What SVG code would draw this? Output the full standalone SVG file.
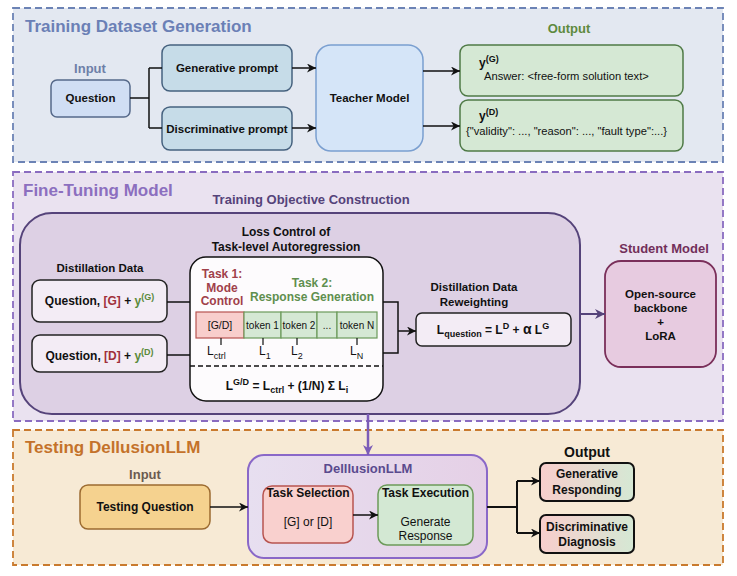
<svg xmlns="http://www.w3.org/2000/svg" width="737" height="576" viewBox="0 0 737 576">
<defs>
<style>
text{font-family:"Liberation Sans",Arial,sans-serif;fill:#111}
.b{font-weight:bold}
.c{text-anchor:middle}
.sec{font-size:17px;font-weight:bold}
.lbl{font-size:11.5px;font-weight:bold}
.ln{fill:none;stroke:#111;stroke-width:1.5}
.arr{fill:none;stroke:#111;stroke-width:1.5;marker-end:url(#ah)}
</style>
<marker id="ah" viewBox="0 0 10 10" refX="10" refY="5" markerWidth="10" markerHeight="9" markerUnits="userSpaceOnUse" orient="auto"><path d="M0,0 L10,5 L0,10 L3,5 Z" fill="#111"/></marker>
<marker id="ahp" viewBox="0 0 10 10" refX="10" refY="5" markerWidth="11" markerHeight="10" markerUnits="userSpaceOnUse" orient="auto"><path d="M0,0 L10,5 L0,10 L3,5 Z" fill="#55437A"/></marker>
<marker id="ahv" viewBox="0 0 10 10" refX="10" refY="5" markerWidth="11" markerHeight="10" markerUnits="userSpaceOnUse" orient="auto"><path d="M0,0 L10,5 L0,10 L3,5 Z" fill="#7C5CB8"/></marker>
<linearGradient id="gDel" x1="0" y1="0" x2="1" y2="0"><stop offset="0" stop-color="#E7DFF0"/><stop offset="1" stop-color="#E5D0E6"/></linearGradient>
<linearGradient id="gOut" x1="0" y1="0" x2="1" y2="0"><stop offset="0" stop-color="#F8CECC"/><stop offset="1" stop-color="#D5E8D4"/></linearGradient>
</defs>

<!-- Section backgrounds -->
<g id="sec1">
<rect x="13" y="8" width="710" height="154" fill="#E3E8F1" stroke="#6C83B5" stroke-width="1.8" stroke-dasharray="7 4"/>
<text x="25" y="32" class="sec" style="fill:#6B80B6">Training Dataset Generation</text>
<text x="90" y="73" class="c b" font-size="13" style="fill:#6E7FA8">Input</text>
<text x="569" y="33" class="c b" font-size="13" style="fill:#5E8A3E">Output</text>
</g>
<g id="sec2">
<rect x="13" y="172" width="710" height="249" fill="#EAE2F0" stroke="#8A6CC0" stroke-width="1.8" stroke-dasharray="7 4"/>
<text x="23" y="196" class="sec" style="fill:#8C6FBF">Fine-Tuning Model</text>
</g>
<g id="sec3">
<rect x="13" y="430" width="710" height="135" fill="#F7EAD5" stroke="#C97A2E" stroke-width="1.8" stroke-dasharray="7 4"/>
<text x="25" y="453" class="sec" style="fill:#C4722A">Testing DellusionLLM</text>
<text x="145" y="479" class="c b" font-size="13" style="fill:#6B5A50">Input</text>
<text x="587" y="457" class="c b" font-size="14">Output</text>
</g>

<!-- Section 1 nodes -->
<g id="question">
<rect x="51" y="80" width="79" height="37" rx="6" fill="#D0DEF4" stroke="#56698A" stroke-width="1.5"/>
<text x="90.5" y="102" class="c lbl">Question</text>
</g>
<g id="genprompt">
<rect x="162" y="45" width="130" height="46" rx="8" fill="#C6DCE8" stroke="#46627F" stroke-width="1.5"/>
<text x="227" y="72" class="c lbl">Generative prompt</text>
</g>
<g id="discprompt">
<rect x="162" y="107" width="130" height="43" rx="8" fill="#C6DCE8" stroke="#46627F" stroke-width="1.5"/>
<text x="227" y="133" class="c lbl">Discriminative prompt</text>
</g>
<g id="teacher">
<rect x="316" y="45" width="107" height="106" rx="15" fill="#D5E5F8" stroke="#7A9FD0" stroke-width="1.5"/>
<text x="369.5" y="102" class="c lbl">Teacher Model</text>
</g>
<g id="outG">
<rect x="460" y="45" width="223" height="51" rx="8" fill="#D5E8D4" stroke="#4F7A46" stroke-width="1.5"/>
<text x="479" y="67" class="b" font-size="12">y<tspan font-size="9" dy="-5">(G)</tspan></text>
<text x="484" y="80" font-size="11.2">Answer: &lt;free-form solution text&gt;</text>
</g>
<g id="outD">
<rect x="460" y="100" width="223" height="51" rx="8" fill="#D5E8D4" stroke="#4F7A46" stroke-width="1.5"/>
<text x="479" y="120" class="b" font-size="12">y<tspan font-size="9" dy="-5">(D)</tspan></text>
<text x="466" y="135" font-size="11.2">{"validity": ..., "reason": ..., "fault type":...}</text>
</g>

<!-- Section 2 nodes -->
<g id="objective">
<rect x="20" y="213" width="560" height="201" rx="32" fill="#DDD0E4" stroke="#55437A" stroke-width="2"/>
<text x="311" y="204" class="c b" font-size="13" style="fill:#55437A">Training Objective Construction</text>
<text x="286" y="236" class="c b" font-size="12">Loss Control of</text>
<text x="286" y="251" class="c b" font-size="12">Task-level Autoregression</text>
<text x="100" y="272" class="c b" font-size="11.5">Distillation Data</text>
<text x="474" y="291" class="c b" font-size="11.5">Distillation Data</text>
<text x="474" y="306" class="c b" font-size="11.5">Reweighting</text>
</g>
<g id="dataG">
<rect x="32" y="280" width="135" height="42" rx="8" fill="#F3ECF5" stroke="#222" stroke-width="1.5"/>
<text x="99.5" y="305" class="c b" font-size="12">Question, <tspan style="fill:#A0303A">[G]</tspan> + <tspan style="fill:#5A8A3A">y<tspan font-size="9" dy="-5">(G)</tspan></tspan></text>
</g>
<g id="dataD">
<rect x="32" y="335" width="135" height="37" rx="8" fill="#F3ECF5" stroke="#222" stroke-width="1.5"/>
<text x="99.5" y="360" class="c b" font-size="12">Question, <tspan style="fill:#A0303A">[D]</tspan> + <tspan style="fill:#5A8A3A">y<tspan font-size="9" dy="-5">(D)</tspan></tspan></text>
</g>
<g id="losscontrol">
<rect x="190" y="257" width="193" height="144" rx="16" fill="#FDFBFD" stroke="#111" stroke-width="1.5"/>
<text x="222" y="278" class="c b" font-size="12" style="fill:#A0404A">Task 1:</text>
<text x="222" y="292" class="c b" font-size="12" style="fill:#A0404A">Mode</text>
<text x="222" y="305" class="c b" font-size="12" style="fill:#A0404A">Control</text>
<text x="312" y="287" class="c b" font-size="12" style="fill:#5F8F4F">Task 2:</text>
<text x="312" y="301" class="c b" font-size="12" style="fill:#5F8F4F">Response Generation</text>
<rect x="196" y="312" width="48" height="26" fill="#F8CECC" stroke="#B85450" stroke-width="1.2"/>
<rect x="244" y="312" width="37" height="26" fill="#D5E8D4" stroke="#6C9A5A" stroke-width="1.2"/>
<rect x="281" y="312" width="36" height="26" fill="#D5E8D4" stroke="#6C9A5A" stroke-width="1.2"/>
<rect x="317" y="312" width="20" height="26" fill="#D5E8D4" stroke="#6C9A5A" stroke-width="1.2"/>
<rect x="337" y="312" width="40" height="26" fill="#D5E8D4" stroke="#6C9A5A" stroke-width="1.2"/>
<text x="220" y="329" class="c" font-size="10.5">[G/D]</text>
<text x="262.5" y="329" class="c" font-size="10">token 1</text>
<text x="299" y="329" class="c" font-size="10">token 2</text>
<text x="327" y="329" class="c" font-size="10">...</text>
<text x="357" y="329" class="c" font-size="10">token N</text>
<path d="M221,338 V345 M263,338 V345 M297,338 V345 M357,338 V345" stroke="#111" stroke-width="1.2"/>
<text x="207" y="355" font-size="12">L<tspan font-size="9" dy="4">ctrl</tspan></text>
<text x="259" y="355" font-size="12">L<tspan font-size="9" dy="4">1</tspan></text>
<text x="291" y="355" font-size="12">L<tspan font-size="9" dy="4">2</tspan></text>
<text x="350" y="355" font-size="12">L<tspan font-size="9" dy="4">N</tspan></text>
<line x1="190" y1="366" x2="383" y2="366" stroke="#111" stroke-width="1.3" stroke-dasharray="5 3"/>
<text x="287" y="390" class="c b" font-size="12">L<tspan font-size="9" dy="-5">G/D</tspan><tspan dy="5"> = L</tspan><tspan font-size="9" dy="3">ctrl</tspan><tspan dy="-3"> + (1/N) Σ L</tspan><tspan font-size="9" dy="3">i</tspan></text>
</g>
<g id="reweight">
<rect x="416" y="313" width="155" height="33" rx="6" fill="#F3ECF5" stroke="#222" stroke-width="1.5"/>
<text x="493" y="334" class="c b" font-size="12">L<tspan font-size="9" dy="3">question</tspan><tspan dy="-3"> = L</tspan><tspan font-size="9" dy="-5">D</tspan><tspan dy="5"> + </tspan><tspan font-size="14">α</tspan><tspan> L</tspan><tspan font-size="9" dy="-5">G</tspan></text>
</g>
<g id="student">
<text x="664" y="253" class="c b" font-size="13" style="fill:#722F5A">Student Model</text>
<rect x="605" y="261" width="111" height="106" rx="16" fill="#E7CBE0" stroke="#7A2F5A" stroke-width="1.8"/>
<text x="660.5" y="298" class="c b" font-size="11.5">Open-source</text>
<text x="660.5" y="312" class="c b" font-size="11.5">backbone</text>
<text x="660.5" y="326" class="c b" font-size="11.5">+</text>
<text x="660.5" y="340" class="c b" font-size="11.5">LoRA</text>
</g>

<!-- Section 3 nodes -->
<g id="testq">
<rect x="80" y="485" width="130" height="44" rx="8" fill="#F5D28F" stroke="#9C6B30" stroke-width="1.5"/>
<text x="145" y="511" class="c b" font-size="12">Testing Question</text>
</g>
<g id="dellusion">
<rect x="248" y="455" width="239" height="103" rx="16" fill="url(#gDel)" stroke="#8A68C8" stroke-width="2"/>
<text x="368" y="473" class="c b" font-size="13" style="fill:#5A4A8E">DelllusionLLM</text>
</g>
<g id="taskselect">
<rect x="263" y="486" width="90" height="57" rx="9" fill="#F9D0CE" stroke="#B85450" stroke-width="1.5"/>
<text x="308" y="497" class="c b" font-size="12">Task Selection</text>
<text x="308" y="526" class="c" font-size="12">[G] or [D]</text>
</g>
<g id="taskexec">
<rect x="378" y="485" width="95" height="60" rx="9" fill="#D3E8D3" stroke="#6C9A5A" stroke-width="1.5"/>
<text x="425.5" y="497" class="c b" font-size="12">Task Execution</text>
<text x="425.5" y="526" class="c" font-size="12">Generate</text>
<text x="425.5" y="540" class="c" font-size="12">Response</text>
</g>
<g id="genresp">
<rect x="540" y="463" width="94" height="38" rx="6" fill="url(#gOut)" stroke="#111" stroke-width="2"/>
<text x="587" y="478" class="c b" font-size="12">Generative</text>
<text x="587" y="494" class="c b" font-size="12">Responding</text>
</g>
<g id="discdiag">
<rect x="540" y="515" width="94" height="38" rx="6" fill="url(#gOut)" stroke="#111" stroke-width="2"/>
<text x="587" y="531" class="c b" font-size="12">Discriminative</text>
<text x="587" y="546" class="c b" font-size="12">Diagnosis</text>
</g>

<!-- Connectors -->
<g id="connectors">
<path class="ln" d="M130,98 H149 M149,68 V128 M149,68 H162 M149,128 H162"/>
<path class="arr" d="M292,68 H316"/>
<path class="arr" d="M292,128 H316"/>
<path class="arr" d="M423,71 H460"/>
<path class="arr" d="M423,126 H460"/>
<path class="ln" d="M167,302 H190 M167,355 H190"/>
<path class="ln" d="M383,302 H398 V353 H383"/>
<path class="arr" d="M398,331 H416"/>
<path d="M580,314 H605" fill="none" stroke="#55437A" stroke-width="2" marker-end="url(#ahp)"/>
<path d="M368,414 V455" fill="none" stroke="#7C5CB8" stroke-width="2.5" marker-end="url(#ahv)"/>
<path class="arr" d="M210,507 H248"/>
<path class="arr" d="M353,515 H378"/>
<path d="M487,507 H517 M517,481 V533" fill="none" stroke="#111" stroke-width="2"/>
<path d="M517,481 H540" fill="none" stroke="#111" stroke-width="2" marker-end="url(#ah)"/>
<path d="M517,533 H540" fill="none" stroke="#111" stroke-width="2" marker-end="url(#ah)"/>
</g>
</svg>
